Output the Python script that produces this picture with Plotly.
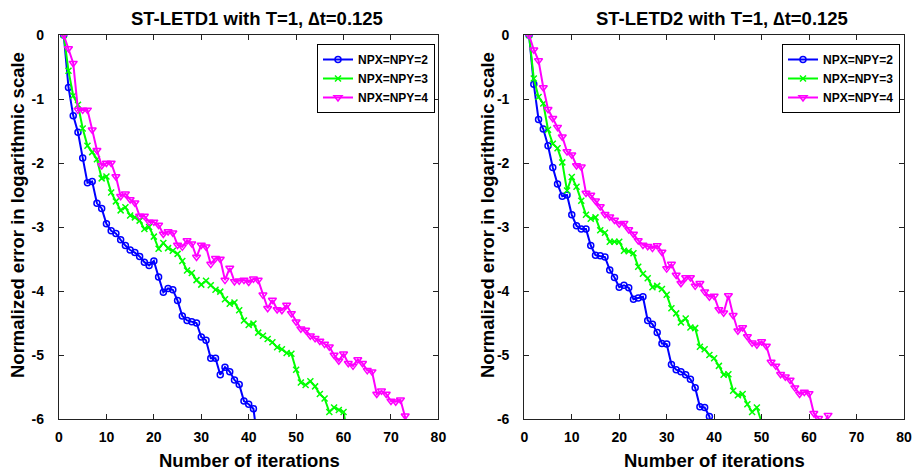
import plotly.graph_objects as go

# ---- data (log10 normalized error vs iteration) ----
iters_l_blue = list(range(1, 43))
left_blue = [0, -0.82, -1.26, -1.52, -1.92, -2.31, -2.29, -2.63, -2.71, -2.95,
             -3.06, -3.10, -3.20, -3.29, -3.36, -3.40, -3.46, -3.55, -3.60, -3.53,
             -3.78, -4.02, -3.96, -3.98, -4.15, -4.39, -4.46, -4.48, -4.50, -4.72,
             -4.77, -5.05, -5.05, -5.31, -5.19, -5.26, -5.39, -5.46, -5.72, -5.77,
             -5.84, -6.40]
iters_l_green = list(range(1, 62))
left_green = [0, -0.56, -0.95, -1.09, -1.46, -1.73, -1.83, -1.94, -2.24, -2.21,
              -2.46, -2.60, -2.74, -2.69, -2.82, -2.85, -2.90, -3.03, -3.00, -3.15,
              -3.34, -3.25, -3.33, -3.37, -3.42, -3.53, -3.68, -3.72, -3.83, -3.90,
              -3.84, -3.91, -3.98, -4.01, -4.13, -4.20, -4.18, -4.30, -4.46, -4.53,
              -4.51, -4.65, -4.70, -4.75, -4.80, -4.88, -4.91, -4.97, -4.98, -5.23,
              -5.43, -5.47, -5.41, -5.49, -5.61, -5.68, -5.89, -5.82, -5.86, -5.89,
              -6.30]
iters_l_mag = list(range(1, 75))
left_mag = [0, -0.21, -0.44, -1.17, -1.17, -1.17, -1.48, -1.80, -2.04, -2.00,
            -2.00, -2.21, -2.52, -2.48, -2.57, -2.62, -2.83, -2.83, -2.92, -2.92,
            -2.97, -3.11, -3.07, -3.09, -3.28, -3.31, -3.21, -3.26, -3.47, -3.28,
            -3.31, -3.58, -3.49, -3.50, -3.83, -3.64, -3.85, -3.84, -3.83, -3.86,
            -3.81, -3.83, -4.06, -4.27, -4.14, -4.29, -4.30, -4.22, -4.35, -4.48,
            -4.59, -4.61, -4.70, -4.74, -4.78, -4.83, -4.87, -5.00, -5.09, -4.98,
            -5.13, -5.17, -5.07, -5.13, -5.24, -5.26, -5.61, -5.56, -5.61, -5.72,
            -5.73, -5.70, -5.95, -6.25]

iters_r_blue = list(range(1, 41))
right_blue = [0, -0.77, -1.32, -1.47, -1.73, -2.07, -2.33, -2.52, -2.50, -2.81,
              -2.98, -3.03, -3.03, -3.29, -3.44, -3.45, -3.47, -3.67, -3.79, -3.94,
              -3.91, -3.95, -4.13, -4.11, -4.09, -4.46, -4.52, -4.65, -4.82, -4.83,
              -5.15, -5.23, -5.26, -5.31, -5.38, -5.51, -5.81, -5.82, -5.96, -6.40]
iters_r_green = list(range(1, 51))
right_green = [0, -0.68, -0.97, -1.07, -1.48, -1.70, -1.77, -1.99, -2.43, -2.22,
               -2.37, -2.59, -2.81, -2.87, -2.85, -3.05, -3.09, -3.23, -3.23, -3.23,
               -3.37, -3.38, -3.41, -3.62, -3.73, -3.80, -3.94, -3.92, -3.97, -4.06,
               -4.27, -4.35, -4.49, -4.43, -4.57, -4.58, -4.87, -4.91, -5.00, -5.05,
               -5.17, -5.31, -5.30, -5.56, -5.63, -5.61, -5.77, -5.89, -5.82, -6.05]
iters_r_mag = list(range(1, 65))
right_mag = [0, -0.23, -0.40, -0.82, -1.16, -1.30, -1.44, -1.59, -1.82, -1.87,
             -2.04, -2.06, -2.47, -2.50, -2.59, -2.68, -2.80, -2.84, -2.89, -2.95,
             -2.94, -3.04, -3.11, -3.21, -3.28, -3.30, -3.33, -3.29, -3.39, -3.65,
             -3.58, -3.75, -3.88, -3.79, -3.79, -3.92, -3.88, -4.01, -4.09, -4.08,
             -4.29, -4.34, -4.07, -4.38, -4.62, -4.57, -4.71, -4.81, -4.84, -4.79,
             -4.86, -5.11, -5.17, -5.30, -5.34, -5.39, -5.51, -5.61, -5.58, -5.60,
             -5.91, -5.99, -6.10, -5.94]

series_names = ["NPX=NPY=2", "NPX=NPY=3", "NPX=NPY=4"]
colors = ["#0000ff", "#00ff00", "#ff00ff"]
symbols = ["circle-open", "x-thin-open", "triangle-down-open"]
msizes = [6, 6, 7]

titles = ["ST-LETD1 with T=1, \u2206t=0.125", "ST-LETD2 with T=1, \u2206t=0.125"]
xlabel = "Number of iterations"
ylabel = "Normalized error in logarithmic scale"
xtick_vals = [0, 10, 20, 30, 40, 50, 60, 70, 80]
ytick_vals = [0, -1, -2, -3, -4, -5, -6]
ytick_text = ["0", "-1", "-2", "-3", "-4", "-5", "-6"]

FONT = "Liberation Sans, Arial, sans-serif"
W, H = 915, 472
ML, MR, MT, MB = 59, 11, 35, 53
PW, PH = W - ML - MR, H - MT - MB


def px(xp):
    return (xp - ML) / PW


def py(yp):
    return (H - MB - yp) / PH


fig = go.Figure()

panels = [
    ([iters_l_blue, iters_l_green, iters_l_mag], [left_blue, left_green, left_mag], "x", "y", "legend"),
    ([iters_r_blue, iters_r_green, iters_r_mag], [right_blue, right_green, right_mag], "x2", "y2", "legend2"),
]
for xs_list, ys_list, xa, ya, lg in panels:
    for k in range(3):
        fig.add_trace(go.Scatter(
            x=xs_list[k], y=ys_list[k], mode="lines+markers", name=series_names[k],
            xaxis=xa, yaxis=ya, legend=lg,
            line=dict(color=colors[k], width=2),
            marker=dict(symbol=symbols[k], size=msizes[k], color=colors[k],
                        line=dict(color=colors[k], width=1.5)),
        ))

xd_left = [0, px(438.4)]
xd_right = [px(524.3), 1]
yd = [0, 1]

tickfont = dict(family=FONT, size=14, color="black", weight="bold")
axis_common = dict(showgrid=False, zeroline=False, showline=True, linecolor="#222",
                   linewidth=1.3, mirror="ticks", ticks="inside", ticklen=5,
                   tickcolor="#222", tickwidth=1, automargin=False, tickfont=tickfont)
xaxis_extra = dict(range=[0, 80], tickvals=xtick_vals, ticklabelstandoff=5)
yaxis_extra = dict(range=[-6, 0], tickvals=ytick_vals, ticktext=ytick_text, ticklabelstandoff=11)

legfont = dict(family=FONT, size=12, color="black", weight="bold")
fig.update_layout(
    width=W, height=H,
    margin=dict(l=ML, r=MR, t=MT, b=MB, autoexpand=False),
    paper_bgcolor="white", plot_bgcolor="white",
    xaxis=dict(domain=xd_left, anchor="y", **xaxis_extra, **axis_common),
    yaxis=dict(domain=yd, anchor="x", **yaxis_extra, **axis_common),
    xaxis2=dict(domain=xd_right, anchor="y2", **xaxis_extra, **axis_common),
    yaxis2=dict(domain=yd, anchor="x2", **yaxis_extra, **axis_common),
    legend=dict(x=px(435), y=py(44), xanchor="right", yanchor="top",
                bgcolor="white", bordercolor="black", borderwidth=1,
                font=legfont, tracegroupgap=0, itemwidth=30),
    legend2=dict(x=px(900), y=py(44), xanchor="right", yanchor="top",
                 bgcolor="white", bordercolor="black", borderwidth=1,
                 font=legfont, tracegroupgap=0, itemwidth=30),
    showlegend=True,
)

labfont = dict(family=FONT, size=18.5, color="black", weight="bold")
annots = []
for tx, cx, t in [(257, 249, titles[0]), (722, 714, titles[1])]:
    annots.append(dict(x=px(tx), y=py(18), xref="paper", yref="paper", text=t, showarrow=False,
                       xanchor="center", yanchor="middle", font=labfont))
    annots.append(dict(x=px(cx), y=py(460), xref="paper", yref="paper", text=xlabel, showarrow=False,
                       xanchor="center", yanchor="middle", font=labfont))
for lx in [17, 487]:
    annots.append(dict(x=px(lx), y=py(215), xref="paper", yref="paper", text=ylabel, showarrow=False,
                       textangle=-90, xanchor="center", yanchor="middle", font=labfont))
fig.update_layout(annotations=annots)

fig.write_html("out.html", config={"displayModeBar": False},
               post_script="document.body.style.margin='0px';")
